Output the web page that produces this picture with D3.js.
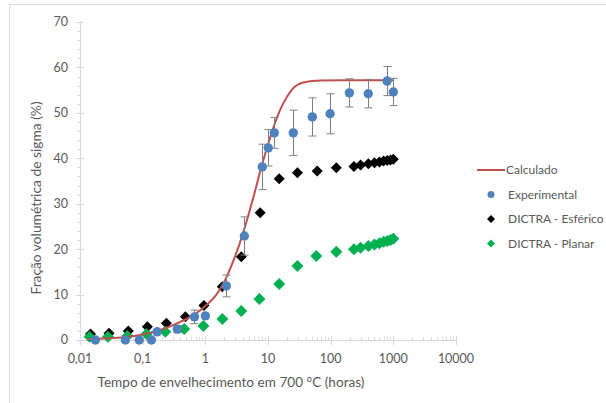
<!DOCTYPE html>
<html>
<head>
<meta charset="utf-8">
<script src="https://cdn.jsdelivr.net/npm/d3@7"></script>
<style>
  body { margin: 0; background: #fff; }
  text { font-family: Lato, "Open Sans", sans-serif; }
</style>
</head>
<body>
<div id="canvas"></div>
<script>
// ////////// DATA /////////////

// Calculado (curve)
var calcTime = [0.013, 0.02, 0.05, 0.1, 0.2, 0.4, 0.7, 1.0, 1.5, 2.0, 3.0, 4.0, 6.0, 8.0, 10, 12.6, 16, 20, 27, 40, 70, 150, 1000]
var calcFrac = [0.1, 0.3, 0.6, 1.2, 2.3, 4.0, 5.8, 7.5, 10.0, 12.8, 18.5, 23.5, 32, 38.5, 43, 47.3, 51, 53.5, 55.8, 56.8, 57.1, 57.2, 57.2]

// Experimental (points with error bars)
var expTime = [0.0176, 0.053, 0.088, 0.138, 0.17, 0.357, 0.67, 1.0, 2.16, 4.19, 8.1, 10.1, 12.6, 25.3, 51, 98, 199, 398, 795, 1000]
var expFrac = [0, 0, 0, 0, 1.8, 2.4, 5.1, 5.3, 11.9, 22.9, 38.1, 42.3, 45.6, 45.6, 49.1, 49.8, 54.4, 54.2, 57.0, 54.6]
var expErr = [0, 0, 0, 0, 0, 0.8, 1.5, 0, 2.4, 4.2, 5.0, 4.0, 3.4, 5.0, 4.2, 4.4, 3.1, 3.1, 3.2, 3.0]

// DICTRA - Esférico
var esfTime = [0.0147, 0.029, 0.059, 0.119, 0.239, 0.48, 0.95, 1.86, 3.75, 7.5, 15.1, 29.5, 61, 123, 235, 300, 400, 500, 600, 700, 800, 900, 1000]
var esfFrac = [1.3, 1.5, 2.0, 2.9, 3.7, 5.1, 7.6, 11.7, 18.3, 28.0, 35.5, 36.8, 37.2, 37.9, 38.2, 38.5, 38.8, 39.0, 39.2, 39.4, 39.5, 39.6, 39.8]

// DICTRA - Planar
var plaTime = [0.0142, 0.028, 0.057, 0.115, 0.23, 0.46, 0.93, 1.87, 3.75, 7.3, 15.1, 29.5, 59, 123, 235, 300, 400, 500, 600, 700, 800, 900, 1000]
var plaFrac = [0.7, 0.7, 0.9, 1.3, 1.8, 2.4, 3.1, 4.6, 6.4, 9.0, 12.3, 16.3, 18.5, 19.4, 20.0, 20.3, 20.7, 21.0, 21.3, 21.6, 21.8, 22.0, 22.3]

var xTicks = [0.01, 0.1, 1, 10, 100, 1000, 10000]
var xTickLabels = ["0,01", "0,1", "1", "10", "100", "1000", "10000"]
var yTicks = [0, 10, 20, 30, 40, 50, 60, 70]

var legendNames = ["Calculado", "Experimental", "DICTRA - Esférico", "DICTRA - Planar"]

///////// GLOBAL VARS //////////

var W = 606, H = 403
var axisColor = "#d9d9d9", textColor = "#595959"
var colors = { calc: "#c0504d", exp: "#4f81bd", esf: "#000000", pla: "#00b050" }

var svg = d3.select("#canvas")
  .append("svg")
  .attr("width", W)
  .attr("height", H)

// outer frame (top and left only visible)
svg.append("line").attr("x1", 9.5).attr("x2", W).attr("y1", 4.5).attr("y2", 4.5)
  .attr("stroke", "#d9d9d9")
svg.append("line").attr("x1", 9.5).attr("x2", 9.5).attr("y1", 4.5).attr("y2", H)
  .attr("stroke", "#d9d9d9")

var x = d3.scaleLog().domain([0.01, 10000]).range([80, 456])
var y = d3.scaleLinear().domain([0, 70]).range([340, 22])

// y axis
svg.append("line").attr("x1", 80.5).attr("x2", 80.5).attr("y1", y(70)).attr("y2", y(0))
  .attr("stroke", axisColor)
d3.range(0, 71, 2).forEach(v => {
  var major = v % 10 == 0
  svg.append("line")
    .attr("x1", major ? 76 : 77.5).attr("x2", major ? 84 : 80.5)
    .attr("y1", Math.round(y(v)) + 0.5).attr("y2", Math.round(y(v)) + 0.5)
    .attr("stroke", axisColor)
})
svg.selectAll(".ytick")
  .data(yTicks)
  .join("text")
  .attr("x", 68)
  .attr("y", d => y(d))
  .attr("dy", "0.35em")
  .attr("text-anchor", "end")
  .attr("font-size", 12.5)
  .attr("fill", textColor)
  .text(d => d)

// x axis
svg.append("line").attr("x1", x(0.01)).attr("x2", x(10000)).attr("y1", 340.5).attr("y2", 340.5)
  .attr("stroke", axisColor)
xTicks.forEach((t, i) => {
  svg.append("line")
    .attr("x1", Math.round(x(t)) + 0.5).attr("x2", Math.round(x(t)) + 0.5)
    .attr("y1", 336).attr("y2", 345)
    .attr("stroke", axisColor)
  if (i < xTicks.length - 1) {
    d3.range(2, 10).forEach(m => {
      var px = Math.round(x(t * m)) + 0.5
      svg.append("line")
        .attr("x1", px).attr("x2", px)
        .attr("y1", 337).attr("y2", 341)
        .attr("stroke", axisColor)
    })
  }
})
svg.selectAll(".xtick")
  .data(xTicks)
  .join("text")
  .attr("x", d => x(d))
  .attr("y", 363)
  .attr("text-anchor", "middle")
  .attr("font-size", 12.5)
  .attr("fill", textColor)
  .text((d, i) => xTickLabels[i])

// axis titles
svg.append("text")
  .attr("x", 231)
  .attr("y", 387)
  .attr("text-anchor", "middle")
  .attr("font-size", 13.6)
  .attr("fill", textColor)
  .text("Tempo de envelhecimento em 700 °C (horas)")

svg.append("text")
  .attr("transform", `translate(41, ${y(35) + 17}) rotate(-90)`)
  .attr("text-anchor", "middle")
  .attr("font-size", 13.8)
  .attr("fill", textColor)
  .text("Fração volumétrica de sigma (%)")

// diamond helper
function diamond(g, cx, cy, r, fill) {
  g.append("path")
    .attr("d", `M${cx},${cy - r}L${cx + r},${cy}L${cx},${cy + r}L${cx - r},${cy}Z`)
    .attr("fill", fill)
}

// DICTRA - Esférico
var esf = svg.append("g")
esfTime.forEach((t, i) => diamond(esf, x(t), y(esfFrac[i]), 5.5, colors.esf))

// DICTRA - Planar
var pla = svg.append("g")
plaTime.forEach((t, i) => diamond(pla, x(t), y(plaFrac[i]), 6, colors.pla))

// Calculado line
var calcData = calcTime.map((t, i) => [t, calcFrac[i]])
svg.append("path")
  .datum(calcData)
  .attr("fill", "none")
  .attr("stroke", colors.calc)
  .attr("stroke-width", 2)
  .attr("d", d3.line().x(d => x(d[0])).y(d => y(d[1])).curve(d3.curveMonotoneX))

// Experimental error bars + points
var expData = expTime.map((t, i) => ({ t: t, v: expFrac[i], e: expErr[i] }))
var errG = svg.append("g").attr("stroke", "#7f7f7f").attr("stroke-width", 1)
expData.filter(d => d.e > 0).forEach(d => {
  var cx = Math.round(x(d.t)) + 0.5
  errG.append("line").attr("x1", cx).attr("x2", cx).attr("y1", y(d.v + d.e)).attr("y2", y(d.v - d.e))
  errG.append("line").attr("x1", cx - 4).attr("x2", cx + 4).attr("y1", y(d.v + d.e)).attr("y2", y(d.v + d.e))
  errG.append("line").attr("x1", cx - 4).attr("x2", cx + 4).attr("y1", y(d.v - d.e)).attr("y2", y(d.v - d.e))
})
svg.append("g")
  .selectAll("circle")
  .data(expData)
  .join("circle")
  .attr("cx", d => x(d.t))
  .attr("cy", d => y(d.v))
  .attr("r", 4.7)
  .attr("fill", colors.exp)

/////// LEGEND ///////
var legend = svg.append("g").attr("transform", "translate(477, 170)")
legendNames.forEach((name, i) => {
  var ly = i * 24.5
  if (i == 0) {
    legend.append("line").attr("x1", 0).attr("x2", 28).attr("y1", ly).attr("y2", ly)
      .attr("stroke", colors.calc).attr("stroke-width", 2)
  } else if (i == 1) {
    legend.append("circle").attr("cx", 14).attr("cy", ly).attr("r", 3.5).attr("fill", colors.exp)
  } else {
    diamond(legend, 14, ly, 4, i == 2 ? colors.esf : colors.pla)
  }
  legend.append("text")
    .attr("x", i == 0 ? 29 : 31)
    .attr("y", ly)
    .attr("dy", "0.35em")
    .attr("font-size", 12)
    .attr("fill", textColor)
    .text(name)
})
</script>
</body>
</html>
